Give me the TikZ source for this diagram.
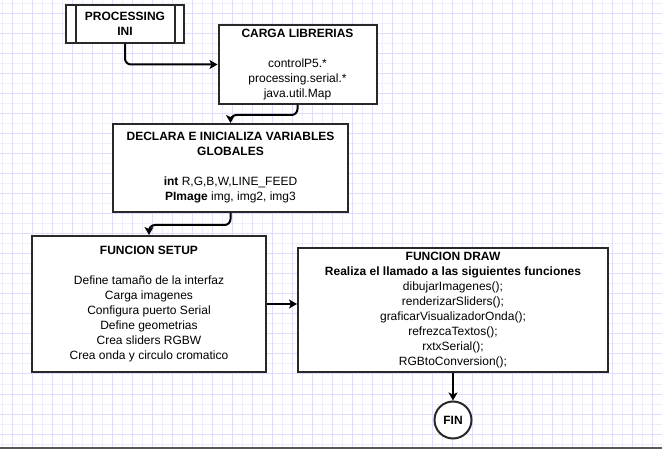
\documentclass[tikz,border=0pt]{standalone}
\usepackage{fontspec}
\setmainfont{Liberation Sans}
\usetikzlibrary{arrows.meta}
\definecolor{gridfaint}{RGB}{238,238,250}
\definecolor{gridstrong}{RGB}{222,222,252}
\definecolor{boxline}{RGB}{40,40,40}
\definecolor{bottomline}{RGB}{90,90,90}
\tikzset{
  box/.style={draw=boxline, line width=2pt, fill=white, rectangle, inner sep=0pt,
    align=center, font=\fontsize{12}{15}\selectfont},
  arr/.style={draw=black, line width=2pt, rounded corners=6pt,
    -{Stealth[length=8pt,width=9pt,inset=2pt]}},
  gfaint/.style={draw=gridfaint, line width=1pt},
  gstrong/.style={draw=gridstrong, line width=1pt},
}
\begin{document}
\begin{tikzpicture}[x=1pt,y=-1pt]
\useasboundingbox (0,0) rectangle (662,449);
% grid
\foreach \x in {2,22,...,662} \draw[gfaint] (\x,0) -- (\x,449);
\foreach \y in {4,24,...,444} \draw[gfaint] (0,\y) -- (662,\y);
\foreach \x in {12,32,...,652} \draw[gstrong] (\x,0) -- (\x,449);
\foreach \y in {14,34,...,434} \draw[gstrong] (0,\y) -- (662,\y);
\draw[draw=bottomline, line width=2pt] (0,448) -- (662,448);

% nodes
\node[box, minimum width=118pt, minimum height=38pt] (proc) at (125,24)
  {\textbf{PROCESSING}\\\textbf{INI}};
\draw[draw=boxline, line width=2pt] ([xshift=10.5pt]proc.north west) -- ([xshift=10.5pt]proc.south west);
\draw[draw=boxline, line width=2pt] ([xshift=-10pt]proc.north east) -- ([xshift=-10pt]proc.south east);

\node[box, minimum width=158pt, minimum height=79pt] (carga) at (297.5,64.5)
  {\textbf{CARGA LIBRERIAS}\\[15pt]controlP5.*\\processing.serial.*\\java.util.Map};

\node[box, minimum width=235pt, minimum height=88pt] (decl) at (230.5,168)
  {\textbf{DECLARA E INICIALIZA VARIABLES}\\\textbf{GLOBALES}\\[15pt]\textbf{int} R,G,B,W,LINE\_FEED\\\textbf{PImage} img, img2, img3};

\node[box, minimum width=234pt, minimum height=136pt] (setup) at (149,304)
  {\textbf{FUNCION SETUP}\\[15pt]Define tamaño de la interfaz\\Carga imagenes\\Configura puerto Serial\\Define geometrias\\Crea sliders RGBW\\Crea onda y circulo cromatico};

\node[box, minimum width=310pt, minimum height=124pt] (drawf) at (453,310)
  {\textbf{FUNCION DRAW}\\\textbf{Realiza el llamado a las siguientes funciones}\\dibujarImagenes();\\renderizarSliders();\\graficarVisualizadorOnda();\\refrezcaTextos();\\rxtxSerial();\\RGBtoConversion();};

\node[box, circle, minimum size=37pt] (fin) at (453,420) {\textbf{FIN}};

% connectors
\draw[arr] (proc.south) |- (carga.west);
\draw[arr] (carga.south) -- ++(0,10) -| (decl.north);
\draw[arr] (decl.south) -- ++(0,12) -| (setup.north);
\draw[arr] (setup.east) -- (setup.east -| drawf.west);
\draw[arr] (drawf.south) -- (fin.north);
\end{tikzpicture}
\end{document}
